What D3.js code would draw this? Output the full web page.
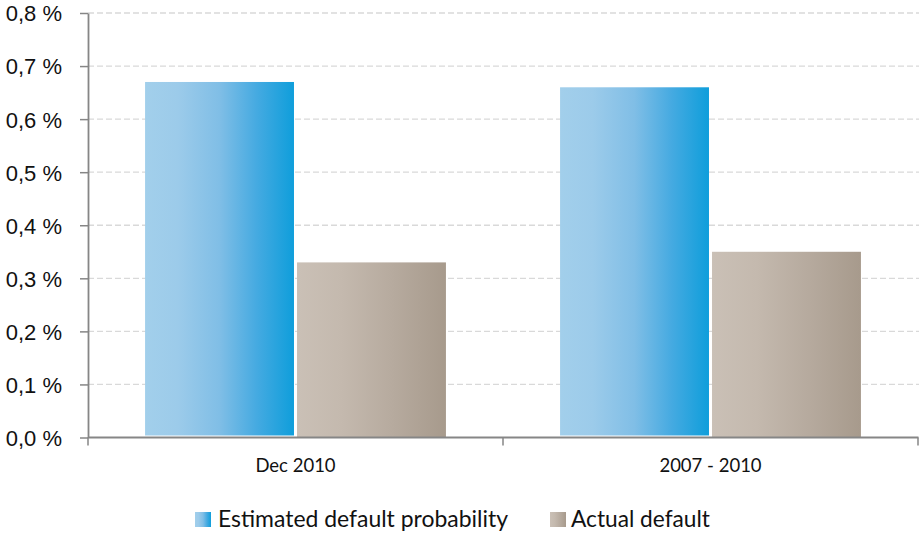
<!DOCTYPE html>
<html>
<head>
<meta charset="utf-8">
<script src="https://cdn.jsdelivr.net/npm/d3@7"></script>
<style>
  html, body { margin: 0; padding: 0; background: #fff; }
  svg { display: block; font-family: Lato, "Open Sans", sans-serif; }
</style>
</head>
<body>
<svg id="chart" width="919" height="533"></svg>
<script>
const categories = ["Dec 2010", "2007 - 2010"];
const seriesNames = ["Estimated default probability", "Actual default"];
const estimated = [0.67, 0.66];
const actual = [0.33, 0.35];
const yTicks = [0, 0.1, 0.2, 0.3, 0.4, 0.5, 0.6, 0.7, 0.8];

const data = categories.map((c, i) => ({ cat: c, values: [
  { s: seriesNames[0], v: estimated[i] },
  { s: seriesNames[1], v: actual[i] }
]}));

const svg = d3.select("#chart");
const mLeft = 88, mRight = 918, mTop = 13, mBottom = 437.5;

const defs = svg.append("defs");
function grad(id, stops) {
  const g = defs.append("linearGradient").attr("id", id)
    .attr("x1", "0%").attr("y1", "0%").attr("x2", "100%").attr("y2", "0%");
  stops.forEach(([o, c]) => g.append("stop").attr("offset", o).attr("stop-color", c));
}
grad("gBlue", [[0, "#a2cfeb"], [0.22, "#9ccbea"], [0.5, "#80bee6"], [0.75, "#45aae1"], [1, "#0f9edb"]]);
grad("gBrown", [[0, "#cac0b6"], [0.3, "#c4b9ae"], [0.65, "#b6aa9e"], [1, "#a79a8c"]]);
const fills = { [seriesNames[0]]: "url(#gBlue)", [seriesNames[1]]: "url(#gBrown)" };

const y = d3.scaleLinear().domain([0, 0.8]).range([mBottom, mTop]);
const x0 = d3.scaleBand().domain(categories).range([mLeft, mRight])
  .paddingInner(0.275).paddingOuter(0.1375);
const x1 = d3.scaleBand().domain(seriesNames).range([0, x0.bandwidth()]).paddingInner(0.02);

// gridlines
svg.append("g").selectAll("line").data(yTicks.filter(t => t > 0)).join("line")
  .attr("x1", mLeft).attr("x2", mRight + 1)
  .attr("y1", d => y(d)).attr("y2", d => y(d))
  .attr("stroke", "#d9d9d9").attr("stroke-width", 1.3).attr("stroke-dasharray", "6,3");

// bars
const groups = svg.append("g").selectAll("g").data(data).join("g")
  .attr("transform", d => `translate(${x0(d.cat)},0)`);
groups.selectAll("rect").data(d => d.values).join("rect")
  .attr("x", d => x1(d.s))
  .attr("width", x1.bandwidth())
  .attr("y", d => y(d.v))
  .attr("height", d => y(0) - y(d.v) - (d.s === seriesNames[0] ? 2 : 0))
  .attr("fill", d => fills[d.s]);

// y axis
const yAxis = d3.axisLeft(y).tickValues(yTicks).tickSize(8).tickSizeOuter(0)
  .tickFormat(d => d3.format(".1f")(d).replace(".", ",") + " %");
const gy = svg.append("g").attr("transform", `translate(${mLeft},0)`).call(yAxis);
gy.select(".domain").attr("stroke", "#868686").attr("stroke-width", 1.8);
gy.selectAll(".tick line").attr("stroke", "#868686").attr("stroke-width", 1.5);
gy.selectAll(".tick text").attr("x", -26).attr("dy", "0.36em")
  .attr("font-size", 22).attr("font-weight", 400).attr("fill", "#111");

// x axis
const gx = svg.append("g").attr("transform", `translate(0,${mBottom})`);
gx.append("line").attr("x1", mLeft).attr("x2", mRight + 0.5).attr("y1", 0).attr("y2", 0)
  .attr("stroke", "#868686").attr("stroke-width", 2);
const bounds = [mLeft, (x0(categories[0]) + x0.bandwidth() + x0(categories[1])) / 2, mRight];
gx.selectAll("line.tk").data(bounds).join("line").attr("class", "tk")
  .attr("x1", d => d).attr("x2", d => d).attr("y1", 0).attr("y2", 8)
  .attr("stroke", "#868686").attr("stroke-width", 1.5);
gx.selectAll("text").data(categories).join("text")
  .attr("x", d => x0(d) + x0.bandwidth() / 2).attr("y", 34.5)
  .attr("text-anchor", "middle").attr("font-size", 18.5).attr("fill", "#111")
  .text(d => d);

// legend
const legend = svg.append("g");
const legItems = [
  { s: seriesNames[0], sx: 195, tx: 218, w: 290 },
  { s: seriesNames[1], sx: 550, tx: 571, w: 139 }
];
legItems.forEach(it => {
  legend.append("rect").attr("x", it.sx).attr("y", 512).attr("width", 16).attr("height", 15)
    .attr("fill", fills[it.s]);
  legend.append("text").attr("x", it.tx).attr("y", 527).attr("font-size", 23)
    .attr("fill", "#111").attr("textLength", it.w).attr("lengthAdjust", "spacingAndGlyphs")
    .text(it.s);
});
</script>
</body>
</html>
